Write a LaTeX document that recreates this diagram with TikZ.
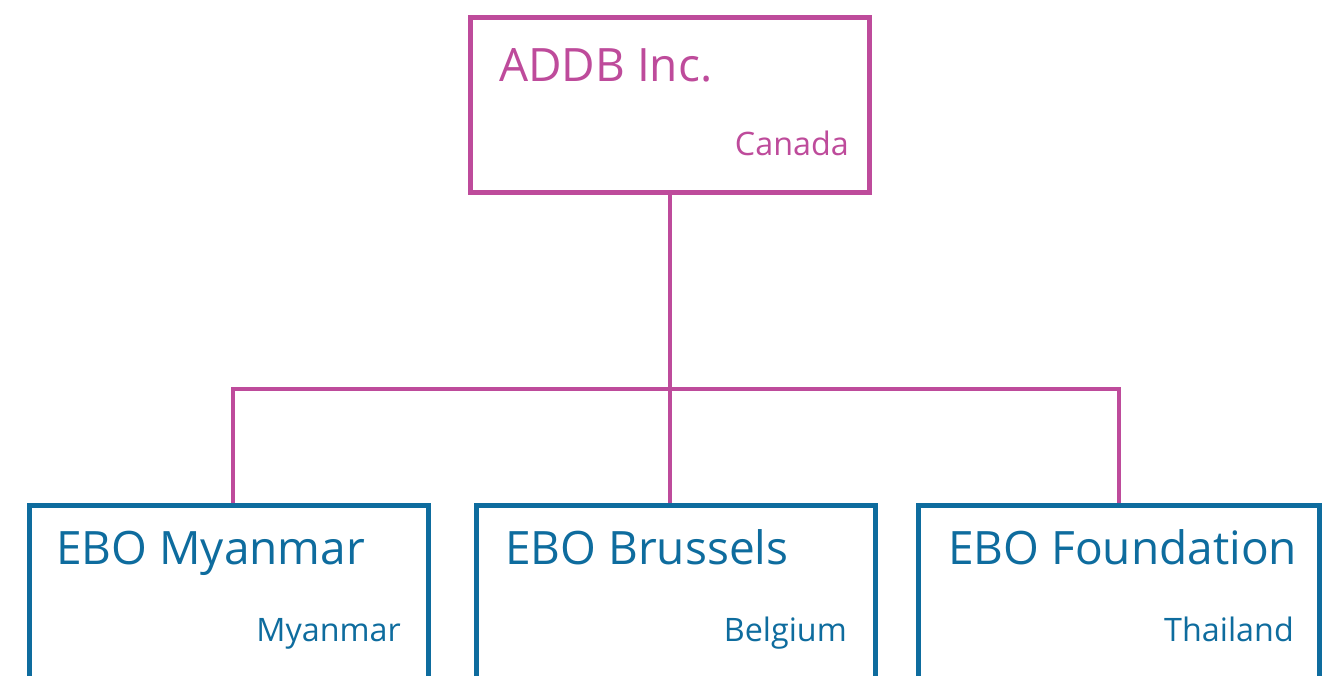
\documentclass[tikz,border=0pt]{standalone}
\usepackage{fontspec}
\setmainfont{Open Sans}
\definecolor{mag}{RGB}{190,75,155}
\definecolor{blu}{RGB}{14,108,158}
\begin{document}
\begin{tikzpicture}[x=1pt,y=-1pt,
  box/.style={draw,rectangle,minimum width=399pt,line width=5pt,inner sep=0pt,fill=none},
  ttl/.style={inner sep=0pt,anchor=base west,font=\fontsize{46}{52}\selectfont},
  sub/.style={inner sep=0pt,anchor=base east,font=\fontsize{32.3}{38}\selectfont},
  conn/.style={draw=mag,line width=4.5pt}]
\useasboundingbox (0,0) rectangle (1333,675);
\clip (0,0) rectangle (1333,675);
\fill[white] (0,0) rectangle (1333,675);
% boxes
\node[box,draw=mag,minimum height=175pt] (top) at (670,104.5) {};
\node[box,draw=blu,minimum height=200pt] (b1) at (229,605.5) {};
\node[box,draw=blu,minimum height=200pt] (b2) at (676,605.5) {};
\node[box,draw=blu,minimum width=401pt,minimum height=200pt] (b3) at (1119,605.5) {};
% texts
\node[ttl,text=mag] (t0) at (499,81) {ADDB Inc.};
\node[sub,text=mag] (s0) at (849,155) {Canada};
\node[ttl,text=blu] (t1) at (56,564) {EBO Myanmar};
\node[sub,text=blu] (s1) at (401,641) {Myanmar};
\node[ttl,text=blu] (t2) at (505,564) {EBO Brussels};
\node[sub,text=blu] (s2) at (847,641) {Belgium};
\node[ttl,text=blu] (t3) at (948,564) {EBO Foundation};
\node[sub,text=blu] (s3) at (1294,641) {Thailand};
% connectors
\coordinate (busL) at (233,389);
\coordinate (busM) at (670,389);
\coordinate (busR) at (1119,389);
\draw[conn] (top.south) -- (busM);
\draw[conn,line cap=rect] (busL) -- (busR);
\draw[conn] (busL) -- (busL |- b1.north);
\draw[conn] (busM) -- (busM |- b2.north);
\draw[conn] (busR) -- (busR |- b3.north);
\end{tikzpicture}
\end{document}
